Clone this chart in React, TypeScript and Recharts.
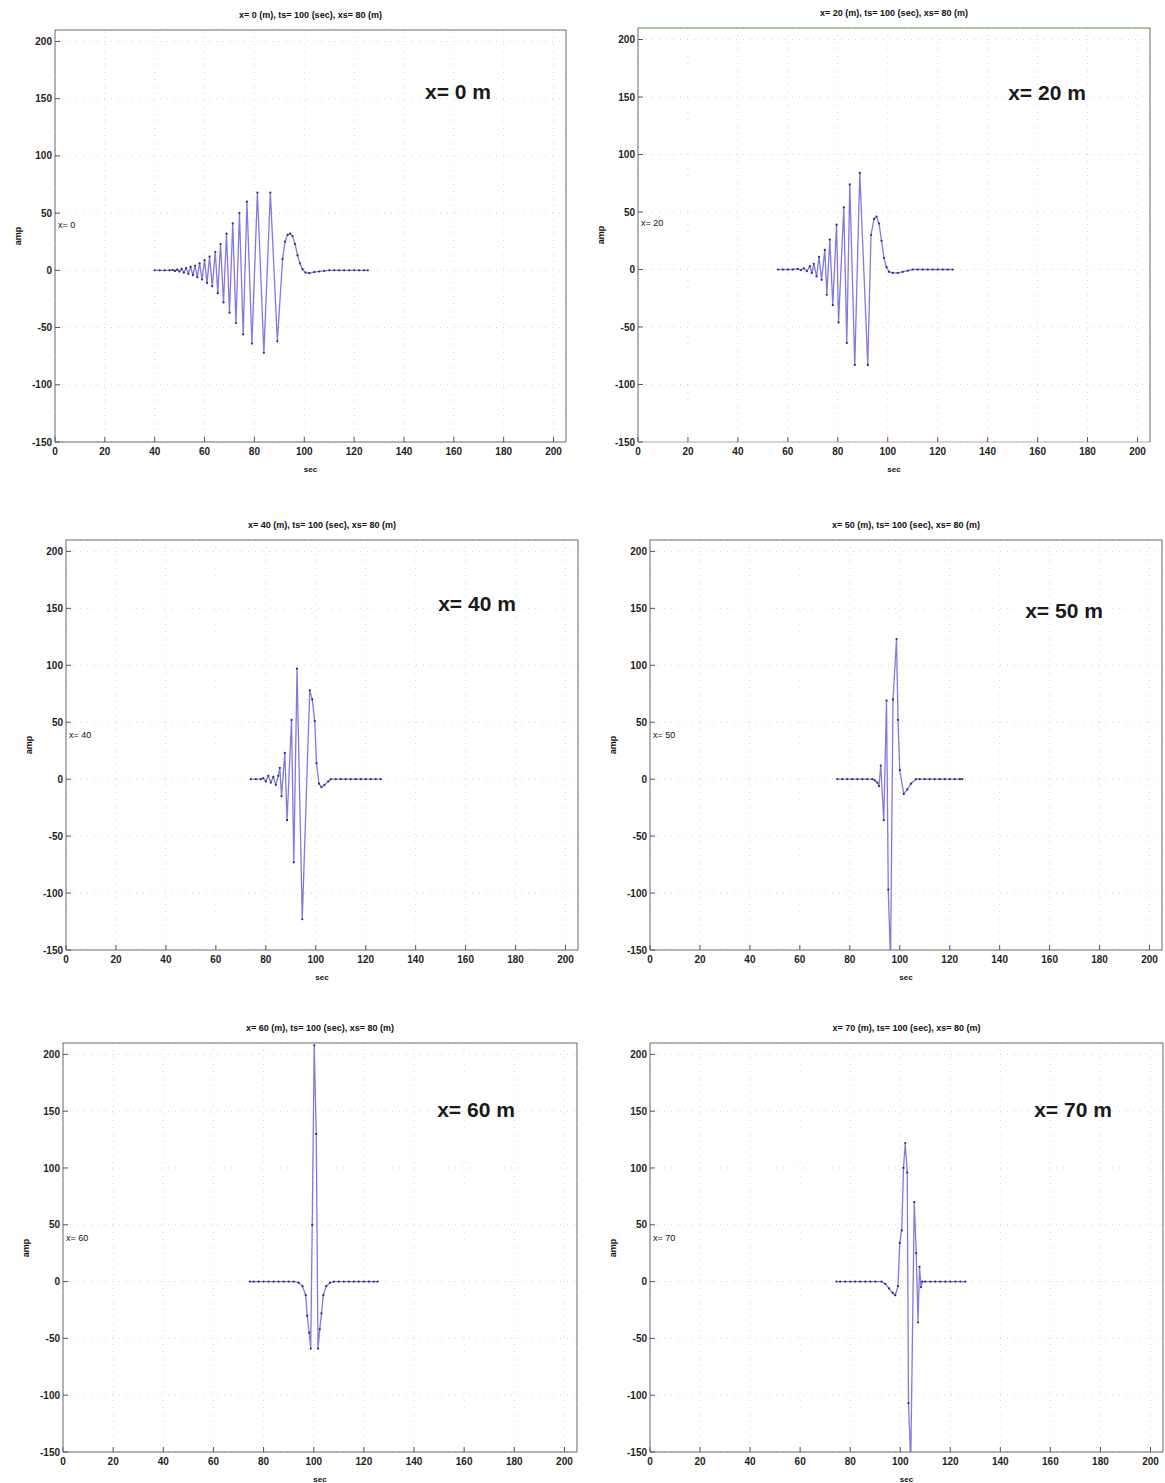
import React from 'react';
import { LineChart, Line, XAxis, YAxis, CartesianGrid } from 'recharts';

// ---------- axes ----------
const X_TICKS = [0, 20, 40, 60, 80, 100, 120, 140, 160, 180, 200];
const Y_TICKS = [-150, -100, -50, 0, 50, 100, 150, 200];
const X_DOMAIN: [number, number] = [0, 205];
const Y_DOMAIN: [number, number] = [-150, 210];

// ---------- texts ----------
const PANEL_TITLES = [
  'x= 0 (m), ts= 100 (sec), xs= 80 (m)',
  'x= 20 (m), ts= 100 (sec), xs= 80 (m)',
  'x= 40 (m), ts= 100 (sec), xs= 80 (m)',
  'x= 50 (m), ts= 100 (sec), xs= 80 (m)',
  'x= 60 (m), ts= 100 (sec), xs= 80 (m)',
  'x= 70 (m), ts= 100 (sec), xs= 80 (m)',
];
const STATION_LABELS = ['x= 0', 'x= 20', 'x= 40', 'x= 50', 'x= 60', 'x= 70'];
const BIG_LABELS = ['x= 0 m', 'x= 20 m', 'x= 40 m', 'x= 50 m', 'x= 60 m', 'x= 70 m'];
const X_LABEL = 'sec';
const Y_LABEL = 'amp';

// ---------- series: [sec, amp] ----------
const WAVE_X0: [number, number][] = [
  [40, 0], [42, 0], [44, 0], [46, 0], [47.2, 0.3], [48.1, -0.5], [49, 0.6], [49.9, -1], [50.8, 1.2],
  [51.7, -2], [52.6, 2], [53.5, -3], [54.4, 3], [55.3, -4], [56.2, 4], [57.1, -6], [58, 6], [59, -8],
  [60, 9], [61, -11], [62, 12], [63.1, -14], [64.3, 16], [65.3, -20], [66.4, 23], [67.6, -28],
  [68.8, 32], [70, -37], [71.3, 41], [72.6, -46], [74, 50], [75.5, -56], [77, 60], [79, -64],
  [81.2, 68], [83.8, -72], [86.4, 68], [89.2, -62], [91.3, 10], [92.3, 25], [93.3, 31], [94.3, 32],
  [95.3, 30], [96.3, 23], [97.3, 13], [98.3, 6], [99.3, 1], [100.5, -2], [102, -2.5], [104, -1.5],
  [106, -1], [108, -0.5], [110, 0], [112, 0], [114, 0], [116, 0], [118, 0], [120, 0], [122, 0],
  [124, 0], [125.5, 0],
];
const WAVE_X20: [number, number][] = [
  [56, 0], [58, 0], [60, 0], [62, 0], [64, 0.5], [65.2, -0.5], [66.4, 1], [67.6, -1.5], [68.8, 3],
  [69.6, -3], [70.4, 5], [71.5, -6], [72.5, 11], [73.5, -9], [74.8, 17], [75.6, -22], [76.8, 26],
  [78, -31], [79.5, 39], [80.3, -46], [82.4, 54], [83.6, -64], [84.8, 74], [86.8, -83], [88.8, 84],
  [92, -83], [93.3, 30], [94.5, 44], [95.5, 46], [96.5, 40], [97.5, 25], [98.5, 10], [99.5, 2],
  [100.5, -2], [102, -3], [104, -3], [106, -2], [108, -1], [110, 0], [112, 0], [114, 0], [116, 0],
  [118, 0], [120, 0], [122, 0], [124, 0], [126, 0],
];
const WAVE_X40: [number, number][] = [
  [74, 0], [76, 0], [78, 0], [79, 1], [80, -2], [81, 3], [82, -3], [83, 2], [84, -5], [85, 3],
  [85.6, 10], [86.3, -15], [87.6, 23], [88.5, -36], [90.3, 52], [91.2, -73], [92.5, 97], [94.6, -123],
  [97.6, 78], [98.6, 70], [99.6, 51], [100.3, 14], [101.3, -4], [102.3, -7], [103.5, -5], [105, -2],
  [106, 0], [108, 0], [110, 0], [112, 0], [114, 0], [116, 0], [118, 0], [120, 0], [122, 0], [124, 0],
  [126, 0],
];
const WAVE_X50: [number, number][] = [
  [75, 0], [77, 0], [79, 0], [81, 0], [83, 0], [85, 0], [87, 0], [89, 0], [90, -1], [91, -3],
  [91.7, -6], [92.4, 12], [93.6, -36], [94.7, 69], [95.4, -97], [96.3, -160], [97.3, 70], [98.7, 123],
  [99.3, 52], [100, 8], [101.6, -13], [103, -9], [104.5, -4], [106.5, 0], [108, 0], [110, 0], [112, 0],
  [114, 0], [116, 0], [118, 0], [120, 0], [122, 0], [124, 0], [125, 0],
];
const WAVE_X60: [number, number][] = [
  [74.5, 0], [76, 0], [78, 0], [80, 0], [82, 0], [84, 0], [86, 0], [88, 0], [90, 0], [92, 0],
  [94, -1], [95.5, -4], [96.8, -12], [97.4, -30], [98.2, -45], [98.8, -59], [99.4, 50], [100.2, 208],
  [101, 130], [101.7, -59], [102.4, -42], [103.1, -28], [103.8, -12], [105, -4], [106.5, -1], [108, 0],
  [110, 0], [112, 0], [114, 0], [116, 0], [118, 0], [120, 0], [122, 0], [124, 0], [125.5, 0],
];
const WAVE_X70: [number, number][] = [
  [74.5, 0], [76, 0], [78, 0], [80, 0], [82, 0], [84, 0], [86, 0], [88, 0], [90, 0], [92.5, 0],
  [94, -2], [95.5, -6], [97, -10], [98, -12], [99.1, -4], [99.8, 34], [100.6, 45], [101.3, 100],
  [102, 122], [102.8, 96], [103.3, -107], [104.2, -160], [105.6, 70], [106.4, 25], [107.1, -36],
  [107.7, 13], [108.3, -5], [108.8, 0], [110, 0], [112, 0], [114, 0], [116, 0], [118, 0], [120, 0],
  [122, 0], [124, 0], [126, 0],
];
const WAVES = [WAVE_X0, WAVE_X20, WAVE_X40, WAVE_X50, WAVE_X60, WAVE_X70];

// ---------- layout (plot-area boxes in page pixels) ----------
const LAYOUT = [
  { x: 55, y: 30, w: 511, h: 412, bx: 403, by: 62, frameTop: '#6b6b6b', frameBottom: '#6b6b6b' },
  { x: 638, y: 28, w: 512, h: 414, bx: 409, by: 65, frameTop: '#5f8f45', frameBottom: '#c9a0b0' },
  { x: 66, y: 540, w: 512, h: 410, bx: 411, by: 64, frameTop: '#6b6b6b', frameBottom: '#6b6b6b' },
  { x: 650, y: 540, w: 512, h: 410, bx: 414, by: 71, frameTop: '#6b6b6b', frameBottom: '#6b6b6b' },
  { x: 63, y: 1043, w: 514, h: 409, bx: 413, by: 67, frameTop: '#6b6b6b', frameBottom: '#6b6b6b' },
  { x: 650, y: 1043, w: 513, h: 409, bx: 423, by: 67, frameTop: '#6b6b6b', frameBottom: '#6b6b6b' },
];

const ML = 40;
const MR = 10;
const MT = 20;
const MB = 40;
const FONT = '"Liberation Sans", Arial, sans-serif';
const tickStyle = { fontSize: 10, fontWeight: 700, fill: '#1e1e1e', fontFamily: FONT };

function Panel({ i }: { i: number }) {
  const L = LAYOUT[i];
  const data = WAVES[i].map(([t, v]) => ({ t, v }));
  const abs = (left: number, top: number, extra: React.CSSProperties = {}): React.CSSProperties => ({
    position: 'absolute',
    left,
    top,
    whiteSpace: 'nowrap',
    fontFamily: FONT,
    ...extra,
  });
  return (
    <>
      <div style={{ position: 'absolute', left: L.x - ML, top: L.y - MT }}>
        <LineChart
          width={L.w + ML + MR}
          height={L.h + MT + MB}
          data={data}
          margin={{ top: MT - 1, right: MR - 1, bottom: 0, left: 0 }}
        >
          <CartesianGrid xAxisId="b" yAxisId="l" stroke="#d4d4d4" strokeDasharray="1 6" />
          <XAxis
            xAxisId="b"
            type="number"
            dataKey="t"
            domain={X_DOMAIN}
            ticks={X_TICKS}
            allowDataOverflow
            height={MB}
            tickSize={-5}
            tickMargin={11}
            tick={tickStyle}
            axisLine={{ stroke: L.frameBottom }}
            tickLine={{ stroke: '#555' }}
          />
          <XAxis
            xAxisId="top"
            orientation="top"
            type="number"
            dataKey="t"
            domain={X_DOMAIN}
            ticks={X_TICKS}
            allowDataOverflow
            height={1}
            tickSize={-5}
            tick={false}
            axisLine={{ stroke: L.frameTop }}
            tickLine={{ stroke: '#555' }}
          />
          <YAxis
            yAxisId="l"
            type="number"
            domain={Y_DOMAIN}
            ticks={Y_TICKS}
            allowDataOverflow
            width={ML}
            tickSize={-5}
            tickMargin={8}
            tick={tickStyle}
            axisLine={{ stroke: '#6b6b6b' }}
            tickLine={{ stroke: '#555' }}
          />
          <YAxis
            yAxisId="r"
            orientation="right"
            type="number"
            domain={Y_DOMAIN}
            ticks={Y_TICKS}
            allowDataOverflow
            width={1}
            tickSize={-5}
            tick={false}
            axisLine={{ stroke: '#6b6b6b' }}
            tickLine={{ stroke: '#555' }}
          />
          <Line
            xAxisId="b"
            yAxisId="l"
            type="linear"
            dataKey="v"
            stroke="#8479de"
            strokeWidth={1.3}
            dot={{ r: 1.1, fill: '#2f2b72', stroke: 'none' }}
            isAnimationActive={false}
          />
        </LineChart>
      </div>
      <div style={abs(L.x + L.w / 2, L.y - 15, { transform: 'translate(-50%,-50%)', fontSize: 9, fontWeight: 700, color: '#111' })}>
        {PANEL_TITLES[i]}
      </div>
      <div style={abs(L.x - 37, L.y + L.h / 2, { transform: 'translate(-50%,-50%) rotate(-90deg)', fontSize: 9, fontWeight: 700, color: '#111' })}>
        {Y_LABEL}
      </div>
      <div style={abs(L.x + L.w / 2, L.y + L.h + 27, { transform: 'translate(-50%,-50%)', fontSize: 8, fontWeight: 700, color: '#111' })}>
        {X_LABEL}
      </div>
      <div style={abs(L.x + 3, L.y + 195, { transform: 'translateY(-50%)', fontSize: 9, color: '#111' })}>
        {STATION_LABELS[i]}
      </div>
      <div style={abs(L.x + L.bx, L.y + L.by, { transform: 'translate(-50%,-50%)', fontSize: 21, fontWeight: 700, color: '#1a1a1a' })}>
        {BIG_LABELS[i]}
      </div>
    </>
  );
}

export default function App() {
  return (
    <div style={{ position: 'absolute', left: 0, top: 0, width: 1165, height: 1483, background: '#fff' }}>
      {LAYOUT.map((_, i) => (
        <Panel key={i} i={i} />
      ))}
    </div>
  );
}
